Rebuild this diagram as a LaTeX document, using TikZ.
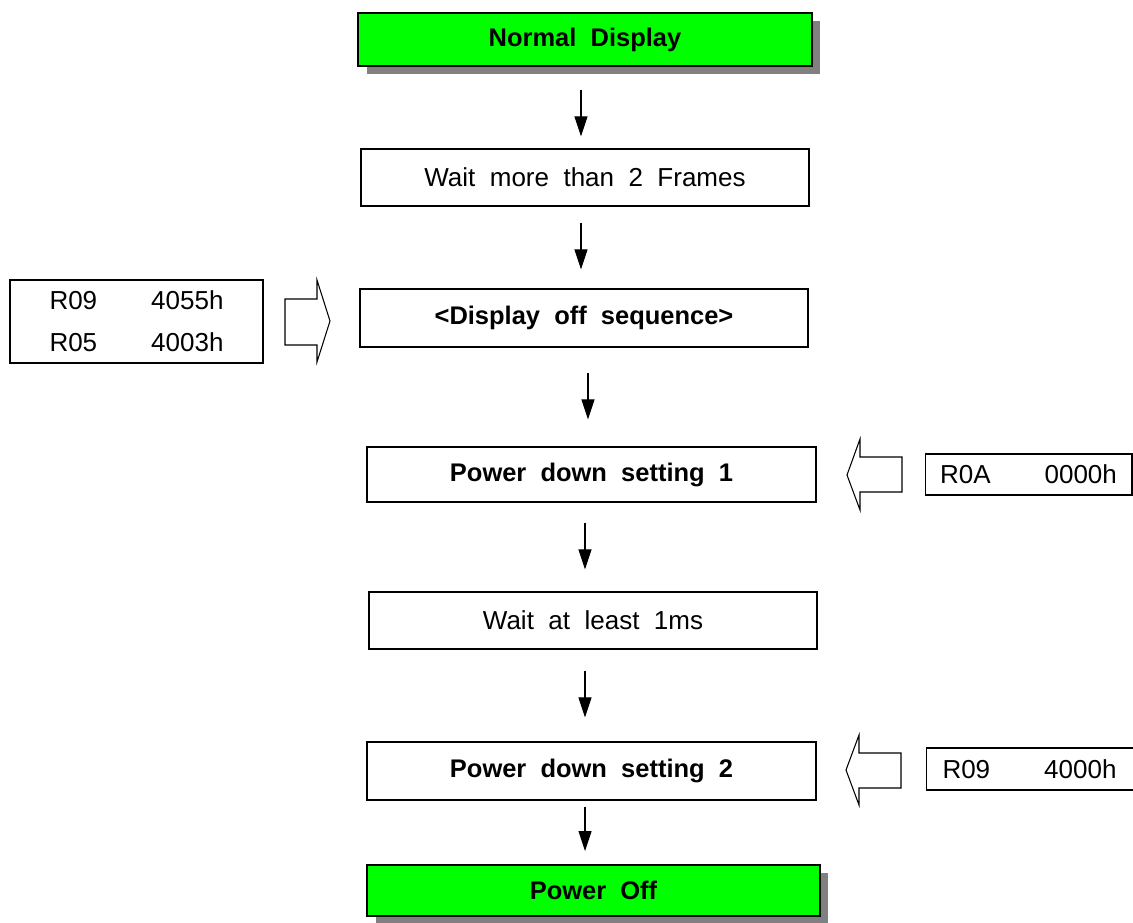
\documentclass[tikz,border=0pt]{standalone}
\usepackage{fontspec}
\setmainfont{Liberation Sans}
\usepackage{tikz}
\usetikzlibrary{arrows.meta,shadows}
\definecolor{boxgreen}{RGB}{0,255,0}
\definecolor{shadowgray}{RGB}{128,128,128}
\newcommand{\regsep}{\hspace{1.08cm}}

\begin{document}
\begin{tikzpicture}[x=0.02cm,y=-0.02cm,>=Triangle,
  stepbox/.style={draw,line width=0.7pt,fill=white,inner sep=0pt,minimum width=8.96cm,minimum height=1.14cm,font=\fontsize{14.8pt}{17pt}\selectfont},
  keybox/.style={stepbox,line width=1.1pt,fill=boxgreen,font=\fontsize{14.5pt}{17pt}\selectfont\bfseries,
    general shadow={fill=shadowgray,draw=none,shadow xshift=0.17cm,shadow yshift=-0.16cm}},
  regbox/.style={draw,line width=0.6pt,inner sep=0pt,align=center,font=\fontsize{14.8pt}{23.8pt}\selectfont},
  flow/.style={line width=0.6pt,-{Triangle[length=0.4cm,width=0.26cm]}},
  blockarrow/.style={draw,line width=0.6pt,fill=white,line join=miter}]
\useasboundingbox (0,0) rectangle (1133,923);
% main sequence
\node[keybox,minimum width=9.08cm,minimum height=1.06cm] (normal) at (585,39.5) {Normal~ Display};
\node[stepbox] (waitframes) at (585,177.5) {Wait~ more~ than~ 2~ Frames};
\node[stepbox,minimum height=1.16cm,font=\fontsize{14.5pt}{17pt}\selectfont\bfseries] (dispoff) at (584,318) {<Display~ off~ sequence>};
\node[stepbox,minimum width=8.98cm,minimum height=1.1cm,font=\fontsize{14.5pt}{17pt}\selectfont\bfseries] (pdset1) at (591.5,474.5) {Power~ down~ setting~ 1};
\node[stepbox] (waitms) at (593,620.5) {Wait~ at~ least~ 1ms};
\node[stepbox,minimum width=8.98cm,minimum height=1.16cm,font=\fontsize{14.5pt}{17pt}\selectfont\bfseries] (pdset2) at (591.5,771) {Power~ down~ setting~ 2};
\node[keybox,minimum width=9.06cm,minimum height=1.02cm] (poweroff) at (593.5,890.5) {Power~ Off};
% register values
\node[regbox,minimum width=5.06cm,minimum height=1.66cm] (regoff) at (136.5,321.5) {R09\regsep4055h\\R05\regsep4003h};
\node[regbox,minimum width=4.14cm,minimum height=0.82cm] (regpd1) at (1028.5,474.5) {R0A\regsep0000h};
\node[regbox,minimum width=4.28cm,minimum height=0.84cm] (regpd2) at (1033,769) {R09\regsep4000h\hspace{0.14cm}};
% hollow arrows
\draw[blockarrow] (285,299) -- (317,299) -- (317,280) -- (330,321) -- (317,362) -- (317,345) -- (285,345) -- cycle;
\draw[blockarrow] (902,457) -- (860,457) -- (860,439) -- (847,475) -- (860,510) -- (860,492) -- (902,492) -- cycle;
\draw[blockarrow] (901,753) -- (859,753) -- (859,735) -- (846,770) -- (859,805) -- (859,788) -- (901,788) -- cycle;
% flow arrows
\draw[flow,shorten <=0.46cm,shorten >=0.24cm] ([xshift=-0.08cm]normal.south) -- ([xshift=-0.08cm]normal.south |- waitframes.north);
\draw[flow,shorten <=0.32cm,shorten >=0.38cm] ([xshift=-0.08cm]waitframes.south) -- ([xshift=-0.08cm]waitframes.south |- dispoff.north);
\draw[flow,shorten <=0.5cm,shorten >=0.54cm] ([xshift=0.08cm]dispoff.south) -- ([xshift=0.08cm]dispoff.south |- pdset1.north);
\draw[flow,shorten <=0.4cm,shorten >=0.44cm] ([xshift=-0.13cm]pdset1.south) -- ([xshift=-0.13cm]pdset1.south |- waitms.north);
\draw[flow,shorten <=0.42cm,shorten >=0.48cm] ([xshift=-0.16cm]waitms.south) -- ([xshift=-0.16cm]waitms.south |- pdset2.north);
\draw[flow,shorten <=0.12cm,shorten >=0.26cm] ([xshift=-0.13cm]pdset2.south) -- ([xshift=-0.13cm]pdset2.south |- poweroff.north);
\end{tikzpicture}
\end{document}
